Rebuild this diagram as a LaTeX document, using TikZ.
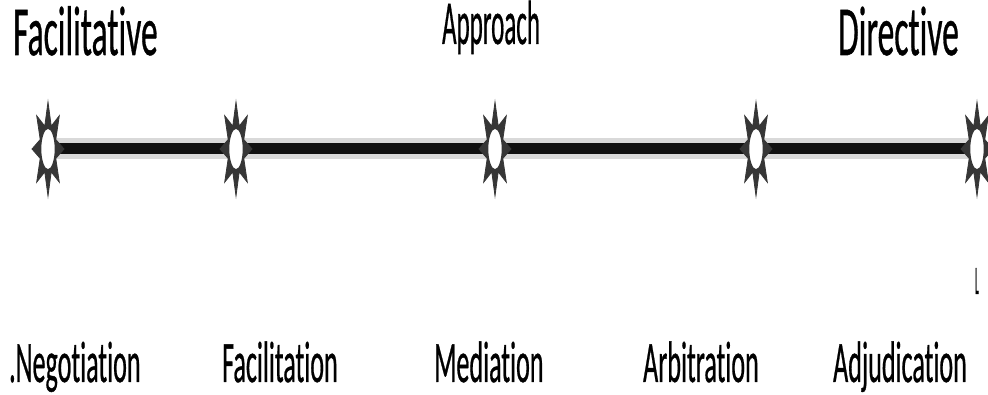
\documentclass[tikz,border=0pt]{standalone}
\usepackage{fontspec}
\setmainfont{Carlito}[Ligatures=NoCommon,FakeBold=0.8]
\newfontfamily\labfont{Carlito}[Ligatures=NoCommon,FakeBold=0.8]
\usetikzlibrary{shapes.geometric,backgrounds}
\definecolor{bandgray}{HTML}{D9D9D9}
\definecolor{coreblack}{HTML}{111111}
\definecolor{stardark}{HTML}{363636}
\begin{document}
\begin{tikzpicture}[x=1pt,y=1pt,
  star8/.style={star, star points=8, star point ratio=1.9, minimum size=94pt,
    inner sep=0pt, xscale=0.34, fill=stardark, draw=stardark, line width=0.8pt},
  starhole/.style={ellipse, minimum width=15pt, minimum height=42pt, inner sep=0pt,
    fill=white, draw=stardark, line width=1.6pt},
  toplab/.style={anchor=base west, inner sep=0pt, font=\labfont\fontsize{54}{60}\selectfont, xscale=0.62, yscale=1.3},
  approachlab/.style={anchor=base west, inner sep=0pt, text height=28pt, text depth=10pt,
    font=\labfont\fontsize{50}{54}\selectfont, xscale=0.5, yscale=1.25},
  botlab/.style={anchor=base west, inner sep=0pt, font=\labfont\fontsize{45}{50}\selectfont, xscale=0.58, yscale=1.3},
  band/.style={line width=21pt, draw=bandgray},
  core/.style={line width=11pt, draw=coreblack}]
\useasboundingbox (0,0) rectangle (988,395);
% stars
\node[star8] (s1) at (48,246) {};
\node[star8] (s2) at (236,246) {};
\node[star8] (s3) at (495,246) {};
\node[star8] (s4) at (756,246) {};
\node[star8] (s5) at (977,246) {};
% line behind the stars
\begin{pgfonlayer}{background}
  \draw[band] (s1.center) -- (s5.center);
  \draw[core] (s1.center) -- (s5.center);
\end{pgfonlayer}
% white centres of the stars
\node[starhole] (h1) at (s1.center) {};
\node[starhole] (h2) at (s2.center) {};
\node[starhole] (h3) at (s3.center) {};
\node[starhole] (h4) at (s4.center) {};
\node[starhole] (h5) at (s5.center) {};
% top labels
\node[toplab] (fac) at (13,340) {Facilitative};
\node[approachlab] (app) at (442,351) {Approach};
\node[toplab] (dir) at (838,340) {Directive};
% bottom labels
\node[botlab] (neg) at (9,13) {.Negotiation};
\node[botlab] (fcl) at (222,13) {Facilitation};
\node[botlab] (med) at (434,13) {Mediation};
\node[botlab] (arb) at (643,13) {Arbitration};
\node[botlab] (adj) at (833,13) {Adjudication};
% small mark
\node[anchor=base west, inner sep=0pt, font=\labfont\fontsize{30}{32}\selectfont, xscale=0.3, yscale=1.35] (mark) at (975,101) {L};
\end{tikzpicture}
\end{document}
